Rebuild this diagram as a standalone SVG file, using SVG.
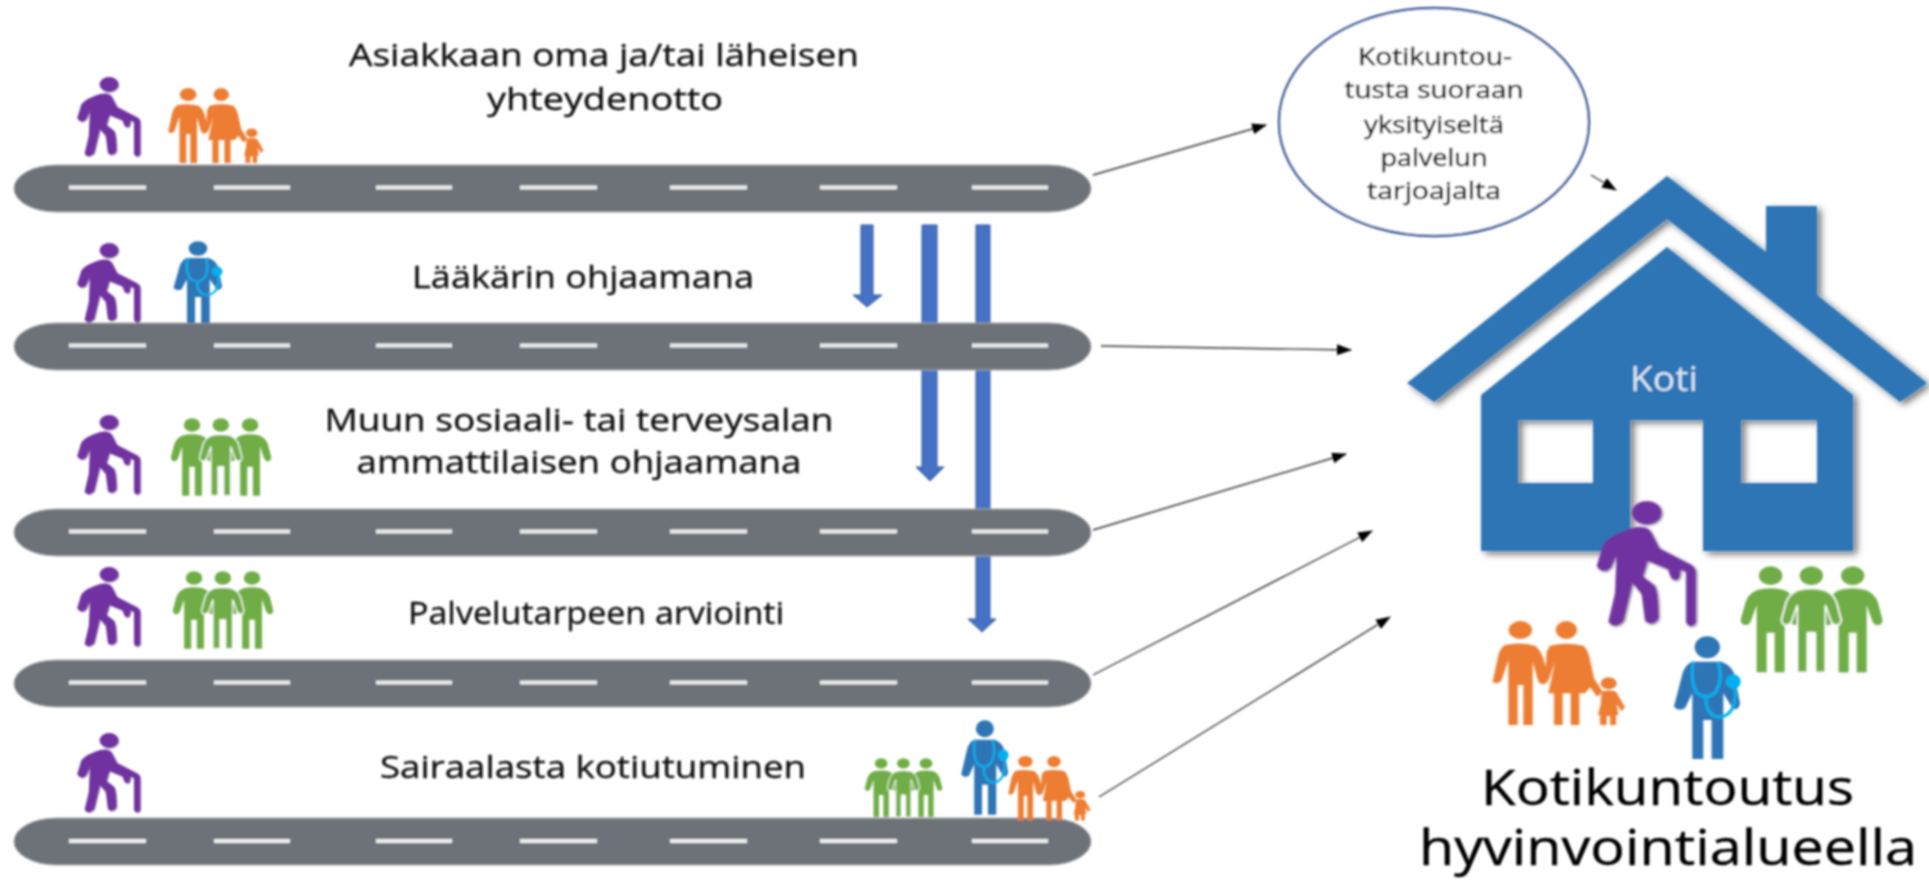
<svg xmlns="http://www.w3.org/2000/svg" xmlns:xlink="http://www.w3.org/1999/xlink" width="1929" height="880" viewBox="0 0 1929 880">
<style>
text{font-family:"Open Sans","Noto Sans","Liberation Sans",sans-serif;fill:#111;text-anchor:middle}
.lbl{font-size:31.5px;stroke:#111;stroke-width:.35}
.small{font-size:23.5px;fill:#000;stroke:#000;stroke-width:.4}
.big{font-size:49px;fill:#000;stroke:#000;stroke-width:.4}
.road{fill:#6d7278;stroke:#a9acb0;stroke-width:1}
.dash{stroke:#ececec;stroke-width:4;fill:none}
.conn{stroke:#333;stroke-width:1.4;fill:none;marker-end:url(#ah)}
.blue{fill:#4472c4;stroke:#2f5597;stroke-width:1}
.house{fill:#2e75b6}
</style>
<defs>
<filter id="soft" x="-5%" y="-5%" width="110%" height="110%"><feGaussianBlur stdDeviation="0.8"/></filter>
<filter id="sh" x="-20%" y="-20%" width="140%" height="140%"><feDropShadow dx="4" dy="3" stdDeviation="3.5" flood-color="#000" flood-opacity="0.55"/></filter>
<marker id="ah" markerUnits="userSpaceOnUse" markerWidth="15" markerHeight="12" refX="14" refY="5.500" orient="auto"><path d="M0,0L15,5.500L0,11Z" fill="#000"/></marker>
<g id="elder" fill="#7030a0">
<ellipse cx="590" cy="98" rx="44" ry="35"/>
<path d="M545,145Q590,132 605,160L628,205L715,250Q735,258 737,275L737,428Q722,448 708,428L708,275L690,268Q692,300 675,300Q660,298 655,268L592,242L578,290L612,315Q625,330 625,415Q605,442 585,422L575,342L547,308L520,422Q495,450 475,425L495,340L500,222L482,262Q460,285 440,258L460,192Q480,165 545,145Z"/>
</g>
<g id="family" fill="#ed7d31">
<ellipse cx="211" cy="450" rx="35" ry="27"/><ellipse cx="349" cy="450" rx="32" ry="27"/><ellipse cx="476" cy="610" rx="24" ry="18"/>
<path d="M165,495Q210,485 255,497Q272,510 280,535L296,598Q290,615 275,612Q265,610 262,595L248,545L248,735L220,735L220,615L203,615L203,735L175,735L175,540L155,600Q145,617 128,605L145,525Q150,505 165,495Z"/>
<path d="M300,497Q350,485 400,497Q412,508 418,530L432,595L458,635L442,650L420,622L405,640L388,640L388,735L362,735L362,640L338,640L338,735L312,735L312,640L295,640L315,545L296,600L285,590L290,515Z"/>
<path d="M455,635Q476,628 498,635L525,682L515,694L500,672L505,705L498,705L498,735L480,735L480,708L470,708L470,735L450,735L450,705L444,705L452,672Z"/>
</g>
<g id="doc">
<ellipse cx="772" cy="502" rx="38" ry="33" fill="#2e75b6"/>
<path fill="#2e75b6" d="M725,545L815,545Q850,560 855,590L870,670Q868,690 850,688L820,640L820,837L785,837L785,720L760,720L760,837L727,837L727,640L705,685Q685,695 672,680L695,590Q700,560 725,545Z"/>
<path fill="none" stroke="#00b0f0" stroke-width="9" d="M730,545Q720,600 738,635Q770,665 798,635Q820,600 805,545M768,655Q768,710 812,712Q862,700 855,625"/>
<circle cx="850" cy="605" r="22" fill="#00b0f0"/>
</g>
<path id="gp" fill="#70ad47" d="M-40,330Q0,320 40,330Q65,340 75,365L90,420Q88,437 72,435Q62,433 58,420L42,375L42,577L12,577L12,458L-12,458L-12,577L-42,577L-42,375L-58,420Q-62,433 -72,435Q-88,437 -90,420L-75,365Q-65,340 -40,330Z"/>
<g id="green">
<use xlink:href="#gp" href="#gp" x="962"/><ellipse cx="962" cy="287" rx="35" ry="28" fill="#70ad47"/>
<use xlink:href="#gp" href="#gp" x="1208"/><ellipse cx="1208" cy="287" rx="35" ry="28" fill="#70ad47"/>
<use xlink:href="#gp" href="#gp" x="1084" stroke="#fff" stroke-width="5"/><ellipse cx="1084" cy="287" rx="35" ry="28" fill="#70ad47"/>
</g>
</defs>
<rect width="1929" height="880" fill="#fff"/>
<g filter="url(#soft)">
<g id="transfer-arrows">
<path class="blue" d="M861,225H873V295H882L867,307L853,295H861Z"/>
<path class="blue" d="M922,225H937V467H944L930,481L916,467H922Z"/>
<path class="blue" d="M976,225H990V619H996L982,632L968,619H976Z"/>
</g>
<g id="road-1"><rect class="road" x="14" y="165" width="1077" height="47" rx="42" ry="23.5"/><path class="dash" d="M69,187.500H146M214,187.500H290M376,187.500H452M520,187.500H597M670,187.500H747M820,187.500H897M972,187.500H1048"/></g>
<g id="road-2"><rect class="road" x="14" y="323" width="1077" height="47" rx="42" ry="23.500"/><path class="dash" d="M69,345.500H146M214,345.500H290M376,345.500H452M520,345.500H597M670,345.500H747M820,345.500H897M972,345.500H1048"/></g>
<g id="road-3"><rect class="road" x="14" y="509" width="1077" height="47" rx="42" ry="23.500"/><path class="dash" d="M69,531.500H146M214,531.500H290M376,531.500H452M520,531.500H597M670,531.500H747M820,531.500H897M972,531.500H1048"/></g>
<g id="road-4"><rect class="road" x="14" y="660" width="1077" height="47" rx="42" ry="23.500"/><path class="dash" d="M69,682.500H146M214,682.500H290M376,682.500H452M520,682.500H597M670,682.500H747M820,682.500H897M972,682.500H1048"/></g>
<g id="road-5"><rect class="road" x="14" y="818" width="1077" height="47" rx="42" ry="23.500"/><path class="dash" d="M69,841H146M214,841H290M376,841H452M520,841H597M670,841H747M820,841H897M972,841H1048"/></g>
<g id="connectors">
<path class="conn" d="M1093,175L1266,125"/>
<path class="conn" d="M1591,175L1616,190"/>
<path class="conn" d="M1101,346L1351,350"/>
<path class="conn" d="M1093,530L1346,454"/>
<path class="conn" d="M1093,675L1372,531"/>
<path class="conn" d="M1099,797L1390,617"/>
</g>
<g id="row-1">
<use xlink:href="#elder" href="#elder" transform="translate(-16.1,63.6) scale(.212)" filter="url(#sh)"/>
<use xlink:href="#family" href="#family" transform="translate(137.500,-13.500) scale(.24)"/>
<text class="lbl" x="604" y="66" textLength="510" lengthAdjust="spacingAndGlyphs">Asiakkaan oma ja/tai läheisen</text>
<text class="lbl" x="605" y="110" textLength="236" lengthAdjust="spacingAndGlyphs">yhteydenotto</text>
</g>
<g id="row-2">
<use xlink:href="#elder" href="#elder" transform="translate(-16.1,229.600) scale(.212)" filter="url(#sh)"/>
<use xlink:href="#doc" href="#doc" transform="translate(8.850,137.100) scale(.245,.222)"/>
<text class="lbl" x="583" y="288" textLength="342" lengthAdjust="spacingAndGlyphs">Lääkärin ohjaamana</text>
</g>
<g id="row-3">
<use xlink:href="#elder" href="#elder" transform="translate(-16.1,401.600) scale(.212)" filter="url(#sh)"/>
<use xlink:href="#green" href="#green" transform="translate(-35,355) scale(.236,.244)"/>
<text class="lbl" x="579" y="431" textLength="509" lengthAdjust="spacingAndGlyphs">Muun sosiaali- tai terveysalan</text>
<text class="lbl" x="579" y="473" textLength="445" lengthAdjust="spacingAndGlyphs">ammattilaisen ohjaamana</text>
</g>
<g id="row-4">
<use xlink:href="#elder" href="#elder" transform="translate(-16.1,553.600) scale(.212)" filter="url(#sh)"/>
<use xlink:href="#green" href="#green" transform="translate(-33,508) scale(.236,.244)"/>
<text class="lbl" x="596" y="624" textLength="376" lengthAdjust="spacingAndGlyphs">Palvelutarpeen arviointi</text>
</g>
<g id="row-5">
<use xlink:href="#elder" href="#elder" transform="translate(-16.1,719.600) scale(.212)" filter="url(#sh)"/>
<use xlink:href="#green" href="#green" transform="translate(706.100,710.300) scale(.182,.185)"/>
<use xlink:href="#doc" href="#doc" transform="translate(801.900,599.700) scale(.237,.257)"/>
<use xlink:href="#family" href="#family" transform="translate(981.700,668.400) scale(.207)"/>
<text class="lbl" x="593" y="778" textLength="426" lengthAdjust="spacingAndGlyphs">Sairaalasta kotiutuminen</text>
</g>
<g id="private-note">
<ellipse cx="1434" cy="122" rx="155" ry="114" fill="#fff" stroke="#2f5597" stroke-width="2.500"/>
<text class="small" x="1435" y="65" textLength="154" lengthAdjust="spacingAndGlyphs">Kotikuntou-</text>
<text class="small" x="1434" y="98" textLength="179" lengthAdjust="spacingAndGlyphs">tusta suoraan</text>
<text class="small" x="1434" y="133" textLength="140" lengthAdjust="spacingAndGlyphs">yksityiseltä</text>
<text class="small" x="1434" y="166" textLength="107" lengthAdjust="spacingAndGlyphs">palvelun</text>
<text class="small" x="1434" y="199" textLength="134" lengthAdjust="spacingAndGlyphs">tarjoajalta</text>
</g>
<g id="home">
<path class="house" filter="url(#sh)" d="M1407,383L1667,176L1766,252V206H1817V295L1927,383L1900,402L1667,219L1434,402Z"/>
<path class="house" filter="url(#sh)" d="M1481,395L1667,247L1853,395V551H1703V420H1630V551H1481ZM1518,420V483H1593V420ZM1741,420V483H1817V420Z" fill-rule="evenodd"/>
<text x="1664" y="391" textLength="68" lengthAdjust="spacingAndGlyphs" style="font-size:34px;fill:#dce6f2">Koti</text>
<use xlink:href="#elder" href="#elder" transform="translate(1450,480) scale(.3333)" filter="url(#sh)"/>
<use xlink:href="#family" href="#family" transform="translate(1450,480) scale(.3333)"/>
<use xlink:href="#green" href="#green" transform="translate(1450,480) scale(.3333)"/>
<use xlink:href="#doc" href="#doc" transform="translate(1450,480) scale(.3333)"/>
<text class="big" x="1667.500" y="805" textLength="373" lengthAdjust="spacingAndGlyphs">Kotikuntoutus</text>
<text class="big" x="1668" y="865" textLength="498" lengthAdjust="spacingAndGlyphs">hyvinvointialueella</text>
</g>
</g>
</svg>
